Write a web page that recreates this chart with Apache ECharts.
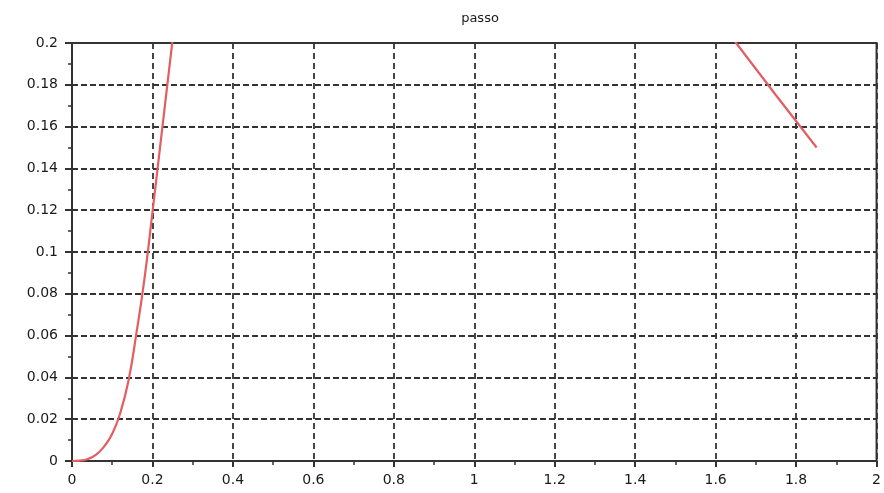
<!DOCTYPE html>
<html><head><meta charset="utf-8">
<script src="https://cdn.jsdelivr.net/npm/echarts@6/dist/echarts.min.js"></script>
<style>html,body{margin:0;padding:0;background:#fff}#c{width:884px;height:493px}</style>
</head><body><div id="c"></div>
<script>
var titleText = 'passo';
var xTicks = [0, 0.2, 0.4, 0.6, 0.8, 1, 1.2, 1.4, 1.6, 1.8, 2];
var yTicks = [0, 0.02, 0.04, 0.06, 0.08, 0.1, 0.12, 0.14, 0.16, 0.18, 0.2];
var leftX = [0, 0.02, 0.04, 0.06, 0.08, 0.1, 0.12, 0.14, 0.16, 0.18, 0.2, 0.22, 0.24, 0.26];
var leftY = [0, 0.0002, 0.001, 0.003, 0.007, 0.013, 0.023, 0.038, 0.061, 0.087, 0.119, 0.152, 0.185, 0.218];
var rightX = [1.63, 1.651, 1.75, 1.851];
var rightY = [0.2053, 0.2, 0.175, 0.15];

function pairs(xs, ys){ return xs.map(function(x,i){ return [x, ys[i]]; }); }

var chart = echarts.init(document.getElementById('c'));
var lineColor = '#e35d62';
var txt = {fontFamily:'DejaVu Sans', fontSize:14, color:'#1a1a1a'};
chart.setOption({
  animation:false,
  backgroundColor:'#fff',
  title:{text:titleText, left:475, top:7, textAlign:'center',
    textStyle:{fontFamily:'DejaVu Sans', fontSize:13, fontWeight:'normal', color:'#1a1a1a'}},
  grid:{left:72, right:6, top:43, bottom:32, show:true, borderColor:'#333', borderWidth:2},
  xAxis:{type:'value', min:xTicks[0], max:xTicks[xTicks.length-1], interval:0.2,
    axisLine:{show:true, onZero:false, lineStyle:{color:'#333', width:2}},
    axisTick:{show:true, length:6, lineStyle:{color:'#333', width:2}},
    minorTick:{show:true, splitNumber:2, length:4, lineStyle:{color:'#333', width:1.5}},
    axisLabel:Object.assign({margin:12, formatter:function(v){return String(Math.round(v*10)/10);}}, txt),
    splitLine:{show:true, lineStyle:{color:'#333', type:[6,4], width:1.8}}
  },
  yAxis:{type:'value', min:yTicks[0], max:yTicks[yTicks.length-1], interval:0.02,
    axisLine:{show:true, onZero:false, lineStyle:{color:'#333', width:2}},
    axisTick:{show:true, length:7, lineStyle:{color:'#333', width:2}},
    minorTick:{show:true, splitNumber:2, length:4, lineStyle:{color:'#333', width:1.5}},
    axisLabel:Object.assign({margin:14, formatter:function(v){return String(Math.round(v*100)/100);}}, txt),
    splitLine:{show:true, lineStyle:{color:'#333', type:[6,3], width:2}}
  },
  series:[
    {type:'line', data:pairs(leftX, leftY), showSymbol:false, smooth:0.5, clip:true,
      lineStyle:{color:lineColor, width:2.2}},
    {type:'line', data:pairs(rightX, rightY), showSymbol:false, clip:true,
      lineStyle:{color:lineColor, width:2.2}}
  ]
});
</script></body></html>
